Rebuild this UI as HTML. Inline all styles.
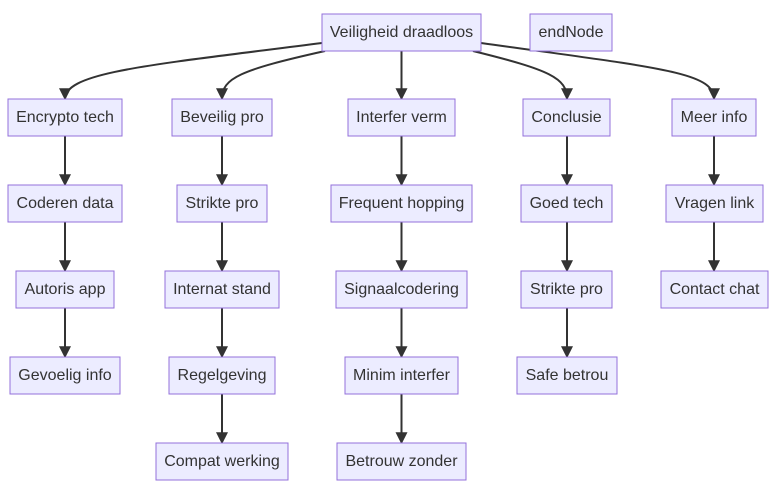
<!DOCTYPE html>
<html><head><meta charset="utf-8"><style>
html,body{margin:0;padding:0;background:#fff;}
svg{display:block;}
text{font-family:"Liberation Sans",sans-serif;font-size:16px;fill:#333;text-anchor:middle;dominant-baseline:central;}
rect{fill:#ECECFF;stroke:#9370DB;stroke-width:1;}
path{stroke:#333;stroke-width:2;fill:none;}
</style></head><body>
<svg width="784" height="494" viewBox="0 0 784 494">
<defs><marker id="a" viewBox="0 0 10 10" refX="9" refY="5" markerWidth="6" markerHeight="6" orient="auto"><path d="M0,0L10,5L0,10z" style="fill:#333;stroke:none"/></marker></defs>
<g marker-end="url(#a)">
<path d="M322,43 C150,65 65,72 65,99" marker-end="url(#a)"/>
<path d="M325,51 C240,70 222,78 222,99" marker-end="url(#a)"/>
<path d="M401.5,51 L401.5,99" marker-end="url(#a)"/>
<path d="M473,51 C550,70 567,78 567,99" marker-end="url(#a)"/>
<path d="M481,43 C660,68 714,72 714,99" marker-end="url(#a)"/>
<path d="M65,136 V185" marker-end="url(#a)"/><path d="M65,222 V271" marker-end="url(#a)"/><path d="M65,308 V357" marker-end="url(#a)"/>
<path d="M222,136 V185" marker-end="url(#a)"/><path d="M222,222 V271" marker-end="url(#a)"/><path d="M222,308 V357" marker-end="url(#a)"/><path d="M222,394 V443" marker-end="url(#a)"/>
<path d="M401.5,136 V185" marker-end="url(#a)"/><path d="M401.5,222 V271" marker-end="url(#a)"/><path d="M401.5,308 V357" marker-end="url(#a)"/><path d="M401.5,394 V443" marker-end="url(#a)"/>
<path d="M567,136 V185" marker-end="url(#a)"/><path d="M567,222 V271" marker-end="url(#a)"/><path d="M567,308 V357" marker-end="url(#a)"/>
<path d="M714,136 V185" marker-end="url(#a)"/><path d="M714,222 V271" marker-end="url(#a)"/>
</g>
<rect x="322" y="14" width="159" height="37"/><text x="401.5" y="32.5">Veiligheid draadloos</text>
<rect x="530" y="14" width="82" height="37"/><text x="571" y="32.5">endNode</text>

<rect x="8" y="99" width="114" height="37"/><text x="65" y="117.5">Encrypto tech</text>
<rect x="172" y="99" width="100" height="37"/><text x="222" y="117.5">Beveilig pro</text>
<rect x="348" y="99" width="107" height="37"/><text x="401.5" y="117.5">Interfer verm</text>
<rect x="523" y="99" width="87" height="37"/><text x="566.5" y="117.5">Conclusie</text>
<rect x="672" y="99" width="84" height="37"/><text x="714" y="117.5">Meer info</text>

<rect x="8" y="185" width="114" height="37"/><text x="65" y="203.5">Coderen data</text>
<rect x="177" y="185" width="90" height="37"/><text x="222" y="203.5">Strikte pro</text>
<rect x="331" y="185" width="141" height="37"/><text x="401.5" y="203.5">Frequent hopping</text>
<rect x="521" y="185" width="91" height="37"/><text x="566.5" y="203.5">Goed tech</text>
<rect x="666" y="185" width="97" height="37"/><text x="714.5" y="203.5">Vragen link</text>

<rect x="16" y="271" width="98" height="37"/><text x="65" y="289.5">Autoris app</text>
<rect x="165" y="271" width="114" height="37"/><text x="222" y="289.5">Internat stand</text>
<rect x="336" y="271" width="131" height="37"/><text x="401.5" y="289.5">Signaalcodering</text>
<rect x="521" y="271" width="91" height="37"/><text x="566.5" y="289.5">Strikte pro</text>
<rect x="661" y="271" width="107" height="37"/><text x="714.5" y="289.5">Contact chat</text>

<rect x="10" y="357" width="110" height="37"/><text x="65" y="375.5">Gevoelig info</text>
<rect x="169" y="357" width="106" height="37"/><text x="222" y="375.5">Regelgeving</text>
<rect x="345" y="357" width="113" height="37"/><text x="401.5" y="375.5">Minim interfer</text>
<rect x="517" y="357" width="100" height="37"/><text x="567" y="375.5">Safe betrou</text>

<rect x="156" y="443" width="132" height="37"/><text x="222" y="461.5">Compat werking</text>
<rect x="337" y="443" width="129" height="37"/><text x="401.5" y="461.5">Betrouw zonder</text>
</svg>
</body></html>
